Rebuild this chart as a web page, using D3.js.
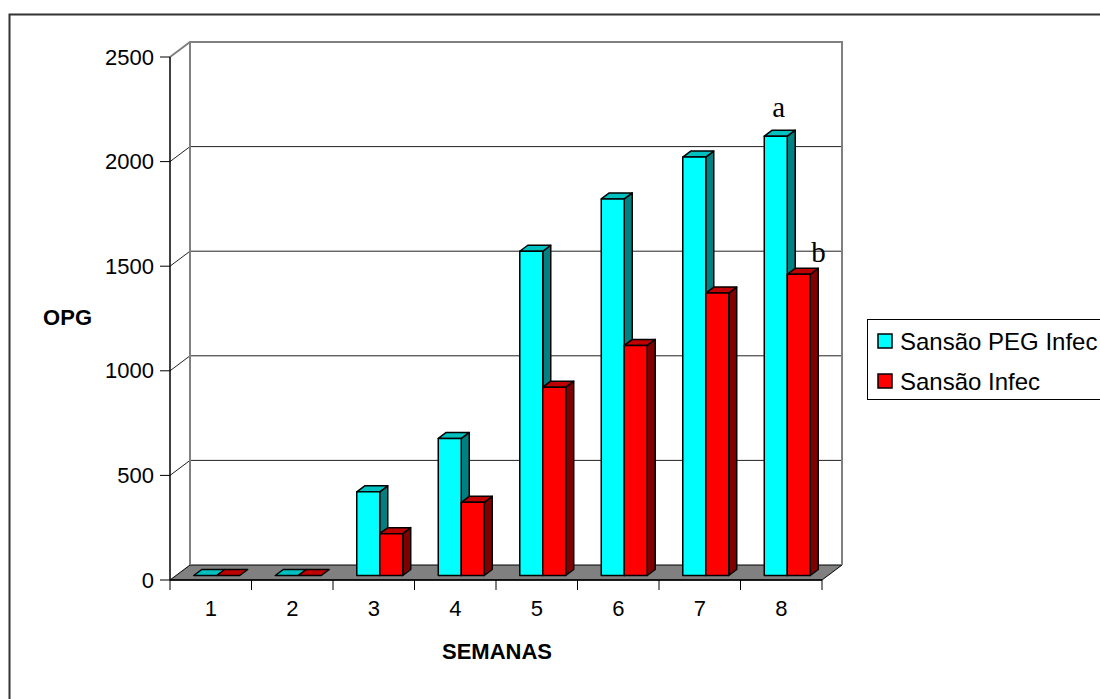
<!DOCTYPE html>
<html>
<head>
<meta charset="utf-8">
<script src="https://cdn.jsdelivr.net/npm/d3@7"></script>
<style>
  body { margin: 0; background: #fff; }
  text { font-family: Arial, "Liberation Sans", sans-serif; }
</style>
</head>
<body>
<script>
// Données
var semanas = ["1", "2", "3", "4", "5", "6", "7", "8"];
var seriesNames = ["Sansão PEG Infec", "Sansão Infec"];
var pegInfec = [0, 0, 400, 655, 1550, 1800, 2000, 2100];
var infec = [0, 0, 200, 350, 900, 1100, 1350, 1440];
var yTicks = [0, 500, 1000, 1500, 2000, 2500];
var annotLabels = [{ text: "a", serie: 0, cat: "8" }, { text: "b", serie: 1, cat: "8" }];

var W = 1100, H = 699;
var frontLeft = 170, frontRight = 822, floorY = 580, topY = 57;
var depthX = 20, depthY = 15; // décalage de la profondeur 3D

var svg = d3.select("body").append("svg").attr("width", W).attr("height", H);

// Bordure extérieure
svg.append("rect")
  .attr("x", 9.5).attr("y", 14.5).attr("width", 1200).attr("height", 800)
  .attr("fill", "none").attr("stroke", "#333").attr("stroke-width", 2);

var x = d3.scaleBand().domain(semanas).range([frontLeft, frontRight]);
var y = d3.scaleLinear().domain([0, 2500]).range([floorY, topY]);
var inner = d3.scaleBand().domain(seriesNames)
  .range([x.bandwidth() * 0.218, x.bandwidth() * 0.782]);

function off(d) { return [depthX * d, -depthY * d]; }
function pts(arr) { return arr.map(function(p) { return p.join(","); }).join(" "); }

// Sol
svg.append("polygon")
  .attr("points", pts([[frontLeft, floorY], [frontLeft + depthX, floorY - depthY],
    [frontRight + depthX, floorY - depthY], [frontRight, floorY]]))
  .attr("fill", "#808080").attr("stroke", "#000").attr("stroke-width", 1);

// Grille (mur gauche + mur du fond)
yTicks.slice(1, -1).forEach(function(t) {
  svg.append("polyline")
    .attr("points", pts([[frontLeft, y(t)], [frontLeft + depthX, y(t) - depthY],
      [frontRight + depthX, y(t) - depthY]]))
    .attr("fill", "none").attr("stroke", "#222").attr("stroke-width", 1);
});

// Arêtes des murs
svg.append("polyline")
  .attr("points", pts([[frontLeft, y(2500)], [frontLeft + depthX, y(2500) - depthY],
    [frontRight + depthX, y(2500) - depthY], [frontRight + depthX, floorY - depthY]]))
  .attr("fill", "none").attr("stroke", "#808080").attr("stroke-width", 2);
svg.append("line")
  .attr("x1", frontLeft + depthX).attr("x2", frontLeft + depthX)
  .attr("y1", y(2500) - depthY).attr("y2", floorY - depthY)
  .attr("stroke", "#808080").attr("stroke-width", 2);

// Barres 3D
var colors = [
  { front: "#00FFFF", top: "#00C0C0", side: "#008080" },
  { front: "#FF0000", top: "#C00000", side: "#800000" }
];
var d0 = 0.3, d1 = 0.7;
var seriesData = [pegInfec, infec];

semanas.forEach(function(cat, i) {
  seriesData.forEach(function(vals, s) {
    var v = vals[i];
    var xl = x(cat) + inner(seriesNames[s]);
    var xr = xl + inner.bandwidth();
    var yb = y(0), yt = y(v);
    var a = off(d0), b = off(d1);
    var c = colors[s];
    var g = svg.append("g").attr("stroke", "#000").attr("stroke-width", 1.5)
      .attr("stroke-linejoin", "round");
    if (v > 0) {
      g.append("polygon").attr("fill", c.side)
        .attr("points", pts([[xr + a[0], yt + a[1]], [xr + b[0], yt + b[1]],
          [xr + b[0], yb + b[1]], [xr + a[0], yb + a[1]]]));
    }
    g.append("polygon").attr("fill", c.top)
      .attr("points", pts([[xl + a[0], yt + a[1]], [xl + b[0], yt + b[1]],
        [xr + b[0], yt + b[1]], [xr + a[0], yt + a[1]]]));
    if (v > 0) {
      g.append("rect").attr("fill", c.front)
        .attr("x", xl + a[0]).attr("y", yt + a[1])
        .attr("width", xr - xl).attr("height", yb - yt);
    }
  });
});

// Axe Y
var yAxis = svg.append("g");
yAxis.append("line").attr("x1", frontLeft).attr("x2", frontLeft)
  .attr("y1", y(2500)).attr("y2", floorY).attr("stroke", "#000").attr("stroke-width", 1.5);
yTicks.forEach(function(t) {
  yAxis.append("line").attr("x1", frontLeft - 10).attr("x2", frontLeft)
    .attr("y1", y(t)).attr("y2", y(t)).attr("stroke", "#000");
  yAxis.append("text").attr("x", frontLeft - 16).attr("y", y(t))
    .attr("text-anchor", "end").attr("dominant-baseline", "central")
    .attr("font-size", 22).text(t);
});

// Axe X
var xAxis = svg.append("g");
xAxis.append("line").attr("x1", frontLeft).attr("x2", frontRight)
  .attr("y1", floorY).attr("y2", floorY).attr("stroke", "#000").attr("stroke-width", 1.5);
semanas.concat([null]).forEach(function(cat, i) {
  var xx = frontLeft + i * x.bandwidth();
  xAxis.append("line").attr("x1", xx).attr("x2", xx)
    .attr("y1", floorY).attr("y2", floorY + 10).attr("stroke", "#000");
});
semanas.forEach(function(cat) {
  xAxis.append("text").attr("x", x(cat) + x.bandwidth() / 2).attr("y", 608)
    .attr("text-anchor", "middle").attr("dominant-baseline", "central")
    .attr("font-size", 22).text(cat);
});

// Titres des axes
svg.append("text").attr("x", 92).attr("y", 317)
  .attr("text-anchor", "end").attr("dominant-baseline", "central")
  .attr("font-size", 22).attr("font-weight", "bold").text("OPG");
svg.append("text").attr("x", 497).attr("y", 651)
  .attr("text-anchor", "middle").attr("dominant-baseline", "central")
  .attr("font-size", 22).attr("font-weight", "bold").text("SEMANAS");

// Annotations a / b
annotLabels.forEach(function(l) {
  var v = seriesData[l.serie][semanas.indexOf(l.cat)];
  var xl = x(l.cat) + inner(seriesNames[l.serie]);
  var tx = l.serie === 0 ? xl + inner.bandwidth() / 2 + 9 : xl + inner.bandwidth() + 7;
  var ty = l.serie === 0 ? y(v) - 24 : y(v) - 17;
  svg.append("text").attr("x", tx).attr("y", ty)
    .attr("text-anchor", l.serie === 0 ? "middle" : "start")
    .style("font-family", "'Liberation Serif', 'Times New Roman', serif")
    .attr("font-size", 29).text(l.text);
});

// Légende
var legend = svg.append("g");
legend.append("rect").attr("x", 867.5).attr("y", 319.5).attr("width", 300).attr("height", 80)
  .attr("fill", "#fff").attr("stroke", "#000").attr("stroke-width", 1);
seriesNames.forEach(function(name, s) {
  var cy = 341 + s * 40;
  legend.append("rect").attr("x", 878).attr("y", cy - 7).attr("width", 14).attr("height", 14)
    .attr("fill", colors[s].front).attr("stroke", "#000").attr("stroke-width", 1.5);
  legend.append("text").attr("x", 900).attr("y", cy)
    .attr("dominant-baseline", "central").attr("font-size", 24).text(name);
});
</script>
</body>
</html>
